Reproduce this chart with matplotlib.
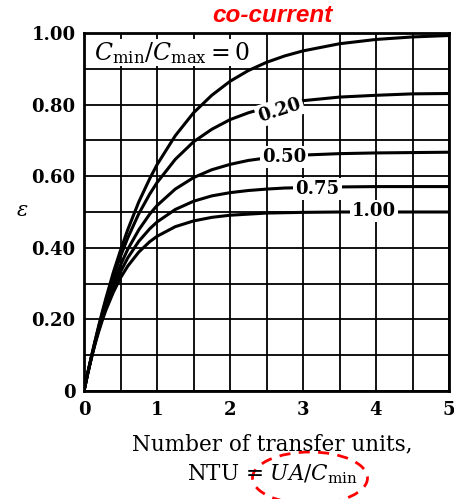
import numpy as np
import matplotlib.pyplot as plt
from matplotlib.patches import Ellipse

plt.rcParams['mathtext.fontset'] = 'dejavuserif'
plt.rcParams['font.family'] = 'DejaVu Serif'

# NTU values and effectiveness (co-current flow)
ntu = [0, 0.05, 0.1, 0.15, 0.2, 0.25, 0.3, 0.4, 0.5, 0.6, 0.75, 0.9, 1.0, 1.25, 1.5,
       1.75, 2.0, 2.25, 2.5, 2.75, 3.0, 3.5, 4.0, 4.5, 5.0]
eps_c000 = [0, 0.049, 0.095, 0.139, 0.181, 0.221, 0.259, 0.330, 0.393, 0.451, 0.528, 0.593, 0.632,
            0.713, 0.777, 0.826, 0.865, 0.895, 0.918, 0.936, 0.950, 0.970, 0.982, 0.989, 0.993]
eps_c020 = [0, 0.049, 0.094, 0.137, 0.178, 0.216, 0.252, 0.318, 0.376, 0.428, 0.495, 0.550, 0.582,
            0.647, 0.696, 0.731, 0.758, 0.777, 0.792, 0.803, 0.811, 0.821, 0.826, 0.830, 0.831]
eps_c050 = [0, 0.048, 0.093, 0.134, 0.173, 0.208, 0.242, 0.301, 0.352, 0.396, 0.450, 0.494, 0.518,
            0.564, 0.596, 0.618, 0.633, 0.644, 0.651, 0.656, 0.659, 0.663, 0.665, 0.666, 0.667]
eps_c075 = [0, 0.048, 0.092, 0.132, 0.169, 0.203, 0.233, 0.288, 0.333, 0.372, 0.418, 0.453, 0.472,
            0.507, 0.530, 0.545, 0.554, 0.560, 0.564, 0.567, 0.568, 0.570, 0.571, 0.571, 0.571]
eps_c100 = [0, 0.048, 0.091, 0.130, 0.165, 0.197, 0.226, 0.275, 0.316, 0.349, 0.388, 0.417, 0.432,
            0.459, 0.475, 0.485, 0.491, 0.494, 0.497, 0.498, 0.499, 0.500, 0.500, 0.500, 0.500]
curves = [eps_c000, eps_c020, eps_c050, eps_c075, eps_c100]

xticks = [0, 1, 2, 3, 4, 5]
yticks = [0, 0.2, 0.4, 0.6, 0.8, 1.0]
ytick_labels = ['0', '0.20', '0.40', '0.60', '0.80', '1.00']

fig = plt.figure(figsize=(4.54, 4.99), dpi=100)
ax = fig.add_axes([84/454, 1-391/499, 365/454, 358/499])

for eps in curves:
    ax.plot(ntu, eps, color='black', lw=2.2, zorder=4, solid_capstyle='butt')

ax.set_xlim(0, 5)
ax.set_ylim(0, 1)
ax.set_xticks(np.arange(0, 5.01, 0.5), minor=True)
ax.set_yticks(np.arange(0, 1.01, 0.1), minor=True)
ax.set_xticks(xticks)
ax.set_yticks(yticks)
ax.set_yticklabels(ytick_labels)
ax.grid(True, which='both', color='black', lw=1.3)
ax.tick_params(which='both', length=0)
ax.tick_params(axis='x', pad=7)
ax.tick_params(axis='y', pad=6)
for lab in ax.get_xticklabels() + ax.get_yticklabels():
    lab.set_fontweight('bold')
    lab.set_fontsize(13)
for s in ax.spines.values():
    s.set_linewidth(2)

# header label covers the grid but sits behind the C=0 curve
ax.text(0.14, 0.945, r'$C_{\rm min}/C_{\rm max}=0$', fontsize=17, ha='left', va='center',
        bbox=dict(facecolor='white', edgecolor='none', pad=0.5), zorder=3)

box = dict(facecolor='white', edgecolor='none', pad=1.5)
ax.text(2.68, 0.785, '0.20', fontsize=13, fontweight='bold', rotation=18, ha='center', va='center',
        bbox=box, zorder=5)
ax.text(2.74, 0.654, '0.50', fontsize=13, fontweight='bold', ha='center', va='center', bbox=box, zorder=5)
ax.text(3.2, 0.564, '0.75', fontsize=13, fontweight='bold', ha='center', va='center', bbox=box, zorder=5)
ax.text(3.97, 0.503, '1.00', fontsize=13, fontweight='bold', ha='center', va='center', bbox=box, zorder=5)

fig.text(22/454, 1-210/499, r'$\epsilon$', fontsize=15, ha='center', va='center')
fig.text(272/454, 1-15/499, 'co-current', color='red', fontsize=17.5, fontweight='bold',
         fontstyle='italic', family='Liberation Sans', ha='center', va='center')
fig.text(272/454, 1-444/499, 'Number of transfer units,', fontsize=15.5, ha='center', va='center')
fig.text(272/454, 1-474/499, r'NTU = $UA/C_{\rm min}$', fontsize=15.5, ha='center', va='center')

fig.patches.append(Ellipse((310/454, 1-478/499), 115/454, 52/499, transform=fig.transFigure,
                           fill=False, edgecolor='red', lw=2, ls=(0, (4, 3))))

fig.savefig('out.png', dpi=100)
